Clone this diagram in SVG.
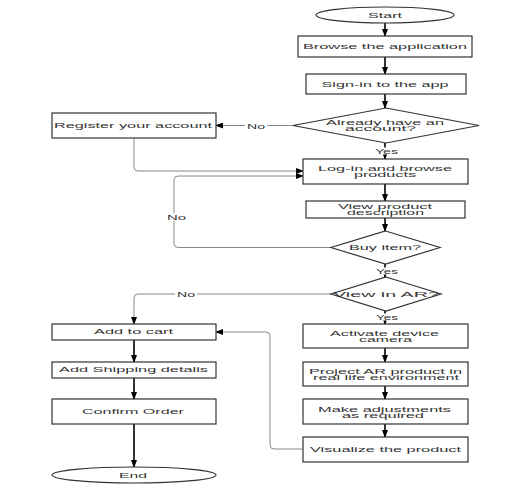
<svg xmlns="http://www.w3.org/2000/svg" width="506" height="488" viewBox="0 0 506 488">
<defs>
<marker id="ah" markerWidth="8" markerHeight="6" refX="7" refY="3" orient="auto" markerUnits="userSpaceOnUse">
<path d="M0,0 L8,3 L0,6 Z" fill="#000"/>
</marker>
<style>
.box{fill:#fff;stroke:#333;stroke-width:1.2}
.t{font-family:"Liberation Sans",Arial,sans-serif;font-size:6.5px;fill:#333;text-anchor:middle;dominant-baseline:central}
.v{stroke:#000;stroke-width:1.6;fill:none}
.g{stroke:#888;stroke-width:1;fill:none}
.lb{fill:#fff}
</style>
</defs>
<rect width="506" height="488" fill="#fff"/>
<g id="connectors">
<path class="v" d="M385,23 V36" marker-end="url(#ah)"/>
<path class="v" d="M385,57 V74" marker-end="url(#ah)"/>
<path class="v" d="M385,94 V108" marker-end="url(#ah)"/>
<path class="v" d="M385,143 V159" marker-end="url(#ah)"/>
<path class="v" d="M385,184 V201" marker-end="url(#ah)"/>
<path class="v" d="M385,218 V231" marker-end="url(#ah)"/>
<path class="v" d="M385,264 V277" marker-end="url(#ah)"/>
<path class="v" d="M385,311 V324" marker-end="url(#ah)"/>
<path class="v" d="M385,348 V362" marker-end="url(#ah)"/>
<path class="v" d="M385,386 V399" marker-end="url(#ah)"/>
<path class="v" d="M385,424 V437" marker-end="url(#ah)"/>
<path class="v" d="M134,340 V362" marker-end="url(#ah)"/>
<path class="v" d="M134,378 V399" marker-end="url(#ah)"/>
<path class="v" d="M134,424 V467" marker-end="url(#ah)"/>
<path class="g" d="M293,125.5 H216" marker-end="url(#ah)"/>
<path class="g" d="M134,138 V167 Q134,171 138,171 H303" marker-end="url(#ah)"/>
<path class="g" d="M331,247.5 H178 Q174,247.5 174,243.5 V180 Q174,176 178,176 H303" marker-end="url(#ah)"/>
<path class="g" d="M331,294 H138 Q134,294 134,298 V324" marker-end="url(#ah)"/>
<path class="g" d="M303,449 H274 Q270,449 270,445 V336 Q270,332 266,332 H216" marker-end="url(#ah)"/>
<rect class="lb" x="245" y="122" width="22" height="8"/>
<text class="t" x="256" y="126" textLength="18" lengthAdjust="spacingAndGlyphs">No</text>
<rect class="lb" x="166" y="213" width="21" height="8"/>
<text class="t" x="176.5" y="217" textLength="19" lengthAdjust="spacingAndGlyphs">No</text>
<rect class="lb" x="175" y="290" width="22" height="8"/>
<text class="t" x="186" y="294" textLength="18" lengthAdjust="spacingAndGlyphs">No</text>
<rect class="lb" x="374" y="147.5" width="25" height="7"/>
<text class="t" x="386.5" y="151" textLength="23" lengthAdjust="spacingAndGlyphs">Yes</text>
<rect class="lb" x="374" y="267.5" width="25" height="7"/>
<text class="t" x="387" y="271" textLength="22" lengthAdjust="spacingAndGlyphs">Yes</text>
<rect class="lb" x="374" y="313.5" width="25" height="7"/>
<text class="t" x="387" y="317" textLength="22" lengthAdjust="spacingAndGlyphs">Yes</text>
</g>
<g id="start">
<ellipse class="box" cx="385" cy="15" rx="69" ry="8"/>
<text class="t" x="385" y="15" textLength="34" lengthAdjust="spacingAndGlyphs">Start</text>
</g>
<g id="browse">
<rect class="box" x="298" y="36" width="174" height="21"/>
<text class="t" x="385" y="46.5" textLength="164" lengthAdjust="spacingAndGlyphs">Browse the application</text>
</g>
<g id="signin">
<rect class="box" x="306" y="74" width="160" height="20"/>
<text class="t" x="385" y="84" textLength="127" lengthAdjust="spacingAndGlyphs">Sign-in to the app</text>
</g>
<g id="already">
<polygon class="box" points="386,108 479,125.5 386,143 293,125.5"/>
<text class="t" x="385" y="122" textLength="118" lengthAdjust="spacingAndGlyphs">Already have an</text>
<text class="t" x="380.5" y="128.5" textLength="71" lengthAdjust="spacingAndGlyphs">account?</text>
</g>
<g id="register">
<rect class="box" x="52" y="113" width="164" height="25"/>
<text class="t" x="133" y="125" textLength="158" lengthAdjust="spacingAndGlyphs">Register your account</text>
</g>
<g id="login">
<rect class="box" x="303" y="159" width="165" height="25"/>
<text class="t" x="385" y="168" textLength="134" lengthAdjust="spacingAndGlyphs">Log-in and browse</text>
<text class="t" x="385" y="174.5" textLength="62" lengthAdjust="spacingAndGlyphs">products</text>
</g>
<g id="viewdesc">
<rect class="box" x="306" y="201" width="159" height="17"/>
<text class="t" x="385" y="206" textLength="94" lengthAdjust="spacingAndGlyphs">View product</text>
<text class="t" x="385.5" y="212.5" textLength="77" lengthAdjust="spacingAndGlyphs">description</text>
</g>
<g id="buy">
<polygon class="box" points="385.5,231 440,247.5 385.5,264 331,247.5"/>
<text class="t" x="385" y="247.5" textLength="72" lengthAdjust="spacingAndGlyphs">Buy item?</text>
</g>
<g id="viewar">
<polygon class="box" points="386,277 441,294 386,311 331,294"/>
<text class="t" x="386" y="294" textLength="106" lengthAdjust="spacingAndGlyphs">View in AR?</text>
</g>
<g id="activate">
<rect class="box" x="303" y="324" width="165" height="24"/>
<text class="t" x="384.5" y="333" textLength="109" lengthAdjust="spacingAndGlyphs">Activate device</text>
<text class="t" x="385.5" y="339.5" textLength="53" lengthAdjust="spacingAndGlyphs">camera</text>
</g>
<g id="project">
<rect class="box" x="303" y="362" width="165" height="24"/>
<text class="t" x="385.5" y="371" textLength="153" lengthAdjust="spacingAndGlyphs">Project AR product in</text>
<text class="t" x="386" y="377.5" textLength="146" lengthAdjust="spacingAndGlyphs">real life environment</text>
</g>
<g id="adjust">
<rect class="box" x="303" y="399" width="165" height="25"/>
<text class="t" x="384.5" y="409" textLength="133" lengthAdjust="spacingAndGlyphs">Make adjustments</text>
<text class="t" x="383" y="415.5" textLength="82" lengthAdjust="spacingAndGlyphs">as required</text>
</g>
<g id="visualize">
<rect class="box" x="303" y="437" width="165" height="25"/>
<text class="t" x="385.5" y="449" textLength="151" lengthAdjust="spacingAndGlyphs">Visualize the product</text>
</g>
<g id="cart">
<rect class="box" x="52" y="324" width="164" height="16"/>
<text class="t" x="133.5" y="331" textLength="79" lengthAdjust="spacingAndGlyphs">Add to cart</text>
</g>
<g id="shipping">
<rect class="box" x="52" y="362" width="164" height="16"/>
<text class="t" x="133.5" y="369" textLength="149" lengthAdjust="spacingAndGlyphs">Add Shipping detalis</text>
</g>
<g id="confirm">
<rect class="box" x="52" y="399" width="164" height="25"/>
<text class="t" x="133" y="411" textLength="102" lengthAdjust="spacingAndGlyphs">Confirm Order</text>
</g>
<g id="end">
<ellipse class="box" cx="134" cy="475" rx="82" ry="8"/>
<text class="t" x="133" y="475" textLength="28" lengthAdjust="spacingAndGlyphs">End</text>
</g>
</svg>
